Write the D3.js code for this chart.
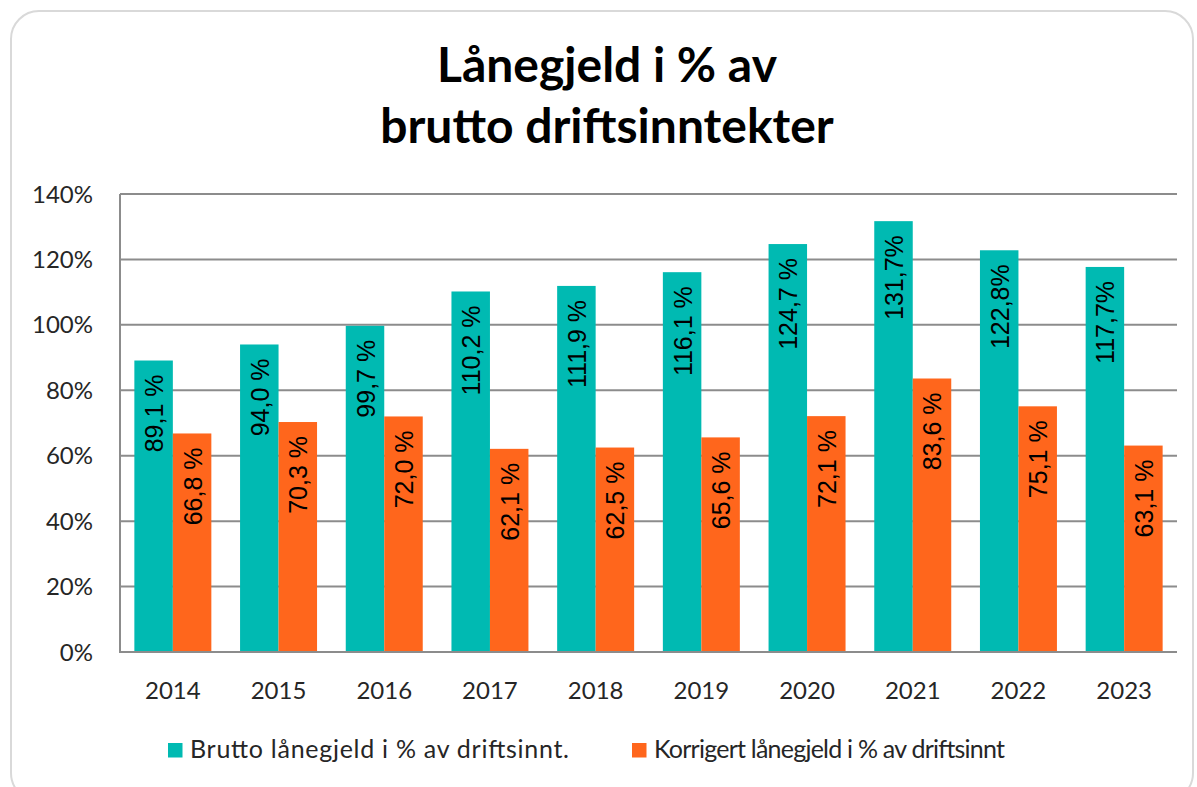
<!DOCTYPE html>
<html lang="no">
<head>
  <meta charset="UTF-8" />
  <title>Lånegjeld i % av brutto driftsinntekter</title>
  <style>
    body { margin: 0; background: #fff; }
    svg { display: block; }
    .tick-label { font-family: Lato, 'Open Sans', sans-serif; font-size: 24px; fill: #262626; }
    .legend-label { font-family: Lato, 'Open Sans', sans-serif; font-size: 25px; fill: #262626; }
    .bar-label { font-family: 'Liberation Sans', Arial, sans-serif; font-size: 25px; fill: #000; }
    .title { font-family: Lato, 'Open Sans', sans-serif; font-weight: bold; font-size: 48px; fill: #000; }
  </style>
</head>
<body>
<svg id="chart"></svg>
<script src="https://d3js.org/d3.v7.min.js"></script>
<script>
  // data
  const years = ["2014", "2015", "2016", "2017", "2018", "2019", "2020", "2021", "2022", "2023"];
  const brutto = [89.1, 94.0, 99.7, 110.2, 111.9, 116.1, 124.7, 131.7, 122.8, 117.7];
  const korrigert = [66.8, 70.3, 72.0, 62.1, 62.5, 65.6, 72.1, 83.6, 75.1, 63.1];
  const bruttoLabels = ["89,1 %", "94,0 %", "99,7 %", "110,2 %", "111,9 %", "116,1 %", "124,7 %", "131,7%", "122,8%", "117,7%"];
  const korrigertLabels = ["66,8 %", "70,3 %", "72,0 %", "62,1 %", "62,5 %", "65,6 %", "72,1 %", "83,6 %", "75,1 %", "63,1 %"];
  const yTicks = [0, 20, 40, 60, 80, 100, 120, 140];
  const seriesNames = ["Brutto lånegjeld i % av driftsinnt.", "Korrigert lånegjeld i % av driftsinnt"];
  const colors = ["#00BAB2", "#FF661C"];
  const titleLines = ["Lånegjeld i % av", "brutto driftsinntekter"];

  const W = 1197, H = 787;
  const plot = { left: 120, right: 1177, top: 194, bottom: 652 };

  const svg = d3.select("#chart").attr("width", W).attr("height", H);

  // frame
  svg.append("rect")
    .attr("x", 11).attr("y", 11)
    .attr("width", 1182).attr("height", 790)
    .attr("rx", 28)
    .attr("fill", "#fff")
    .attr("stroke", "#d9d9d9")
    .attr("stroke-width", 2);

  // title
  svg.append("text")
    .attr("class", "title")
    .attr("text-anchor", "middle")
    .selectAll("tspan")
    .data(titleLines)
    .join("tspan")
    .attr("x", 607)
    .attr("y", (d, i) => 82 + i * 61)
    .text(d => d);

  const y = d3.scaleLinear().domain([0, 140]).range([plot.bottom, plot.top]);
  const x0 = d3.scaleBand().domain(years).range([plot.left, plot.right]);
  const x1 = d3.scaleBand().domain([0, 1]).range([0, x0.bandwidth()]).paddingOuter(0.373);

  // gridlines
  svg.append("g")
    .selectAll("line")
    .data(yTicks)
    .join("line")
    .attr("x1", plot.left).attr("x2", plot.right)
    .attr("y1", d => y(d)).attr("y2", d => y(d))
    .attr("stroke", "#8c8c8c")
    .attr("stroke-width", 2);

  // left axis line
  svg.append("line")
    .attr("x1", plot.left).attr("x2", plot.left)
    .attr("y1", plot.top).attr("y2", plot.bottom)
    .attr("stroke", "#8c8c8c")
    .attr("stroke-width", 2);

  // y tick labels
  svg.append("g")
    .selectAll("text")
    .data(yTicks)
    .join("text")
    .attr("class", "tick-label")
    .attr("x", 93)
    .attr("y", d => y(d))
    .attr("dy", "0.36em")
    .attr("text-anchor", "end")
    .text(d => d + "%");

  // bars
  const rows = years.map((yr, i) => ({
    year: yr,
    vals: [
      { s: 0, v: brutto[i], label: bruttoLabels[i] },
      { s: 1, v: korrigert[i], label: korrigertLabels[i] }
    ]
  }));

  const groups = svg.append("g")
    .selectAll("g")
    .data(rows)
    .join("g")
    .attr("transform", d => `translate(${x0(d.year)},0)`);

  groups.selectAll("rect")
    .data(d => d.vals)
    .join("rect")
    .attr("x", d => x1(d.s))
    .attr("width", x1.bandwidth())
    .attr("y", d => y(d.v))
    .attr("height", d => y(0) - y(d.v))
    .attr("fill", d => colors[d.s]);

  groups.selectAll("text")
    .data(d => d.vals)
    .join("text")
    .attr("class", "bar-label")
    .attr("text-anchor", "end")
    .attr("dy", "0.38em")
    .attr("transform", d => `translate(${x1(d.s) + x1.bandwidth() / 2},${y(d.v) + 14}) rotate(-90)`)
    .text(d => d.label);

  // bottom axis line (drawn over bars)
  svg.append("line")
    .attr("x1", plot.left - 1).attr("x2", plot.right)
    .attr("y1", plot.bottom).attr("y2", plot.bottom)
    .attr("stroke", "#8c8c8c")
    .attr("stroke-width", 2);

  // year labels
  svg.append("g")
    .selectAll("text")
    .data(years)
    .join("text")
    .attr("class", "tick-label")
    .attr("x", d => x0(d) + x0.bandwidth() / 2)
    .attr("y", 699)
    .attr("text-anchor", "middle")
    .text(d => d);

  // legend
  const legendX = [168, 632];
  const legendW = [379, 351];
  const legend = svg.append("g")
    .selectAll("g")
    .data(seriesNames)
    .join("g")
    .attr("transform", (d, i) => `translate(${legendX[i]},743)`);
  legend.append("rect")
    .attr("width", 14.5).attr("height", 14.5)
    .attr("fill", (d, i) => colors[i]);
  legend.append("text")
    .attr("class", "legend-label")
    .attr("x", 22)
    .attr("y", 15)
    .attr("textLength", (d, i) => legendW[i])
    .attr("lengthAdjust", "spacing")
    .text(d => d);
</script>
</body>
</html>
